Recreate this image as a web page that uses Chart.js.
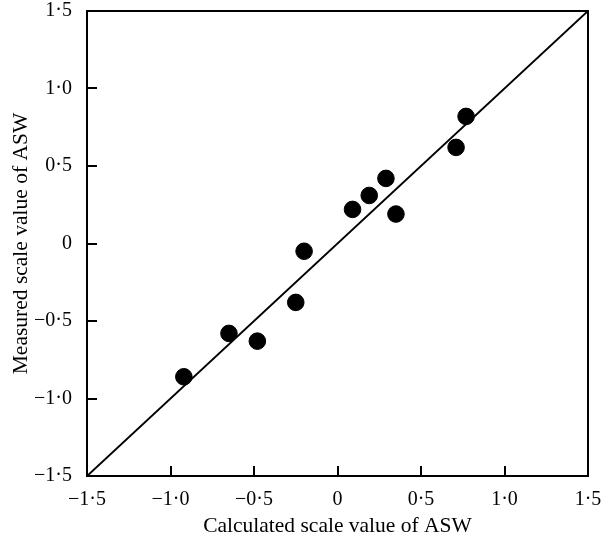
<!DOCTYPE html>
<html>
<head>
<meta charset="utf-8">
<script src="https://cdn.jsdelivr.net/npm/chart.js@4.4.1/dist/chart.umd.min.js"></script>
<style>
  html, body { margin: 0; padding: 0; background: #fff; }
  #wrap { width: 601px; height: 539px; }
</style>
</head>
<body>
<div id="wrap"><canvas id="asw-chart" width="601" height="539"></canvas></div>
<script>
// calculated vs measured scale values of ASW
const calculated = [-0.92, -0.65, -0.48, -0.25, -0.2, 0.09, 0.19, 0.29, 0.35, 0.71, 0.77];
const measured = [-0.86, -0.58, -0.63, -0.38, -0.05, 0.22, 0.31, 0.42, 0.19, 0.62, 0.82];
const lineEnds = [-1.5, 1.5];
const tickValues = [-1.5, -1.0, -0.5, 0, 0.5, 1.0, 1.5];

const serif = "'Liberation Serif', 'Times New Roman', serif";

function formatTick(value) {
  if (Math.abs(value) < 1e-9) return "0";
  return value.toFixed(1).replace(".", "\u00b7").replace("-", "\u2212");
}

// box round the plot area
const framePlugin = {
  id: "frame",
  afterDraw(chart) {
    const { ctx, chartArea } = chart;
    const { left, right, top, bottom } = chartArea;
    ctx.save();
    ctx.strokeStyle = "#000";
    ctx.lineWidth = 2;
    ctx.strokeRect(left, top, right - left, bottom - top);
    ctx.restore();
  },
};

// inward tick marks (negative tick length)
const tickGrid = {
  display: true,
  drawOnChartArea: false,
  drawTicks: true,
  tickLength: -10,
  color: "#000",
  lineWidth: 2,
};

new Chart(document.querySelector("#asw-chart"), {
  type: "scatter",
  data: {
    datasets: [
      {
        label: "1:1",
        type: "line",
        data: lineEnds.map((v) => ({ x: v, y: v })),
        borderColor: "#000",
        borderWidth: 2,
        pointRadius: 0,
        fill: false,
      },
      {
        label: "ASW",
        data: calculated.map((x, i) => ({ x: x, y: measured[i] })),
        backgroundColor: "#000",
        borderColor: "#000",
        pointRadius: 8.3,
        pointHoverRadius: 8.3,
      },
    ],
  },
  plugins: [framePlugin],
  options: {
    responsive: false,
    animation: false,
    layout: { padding: { top: 11, right: 13, left: 0, bottom: 0 } },
    plugins: { legend: { display: false }, tooltip: { enabled: false } },
    scales: {
      x: {
        type: "linear",
        min: -1.5,
        max: 1.5,
        afterBuildTicks: (scale) => { scale.ticks = tickValues.map((v) => ({ value: v })); },
        afterFit: (scale) => {
          scale.height = 63;
          scale.paddingLeft = 0;
          scale.paddingRight = 0;
        },
        grid: tickGrid,
        border: { display: false },
        ticks: {
          color: "#000",
          font: { family: serif, size: 20 },
          padding: 22,
          maxRotation: 0,
          callback: (v) => formatTick(v),
        },
        title: {
          display: true,
          text: "Calculated scale value of ASW",
          color: "#000",
          font: { family: serif, size: 21.5 },
          padding: { top: 0, bottom: 0 },
        },
      },
      y: {
        type: "linear",
        min: -1.5,
        max: 1.5,
        afterBuildTicks: (scale) => { scale.ticks = tickValues.map((v) => ({ value: v })); },
        afterFit: (scale) => {
          scale.width = 87;
          scale.paddingTop = 0;
          scale.paddingBottom = 0;
        },
        grid: tickGrid,
        border: { display: false },
        ticks: {
          color: "#000",
          font: { family: serif, size: 20 },
          padding: 25,
          callback: (v) => formatTick(v),
        },
        title: {
          display: true,
          text: "Measured scale value of ASW",
          color: "#000",
          font: { family: serif, size: 21.5 },
          padding: { top: 8, bottom: 0 },
        },
      },
    },
  },
});
</script>
</body>
</html>
